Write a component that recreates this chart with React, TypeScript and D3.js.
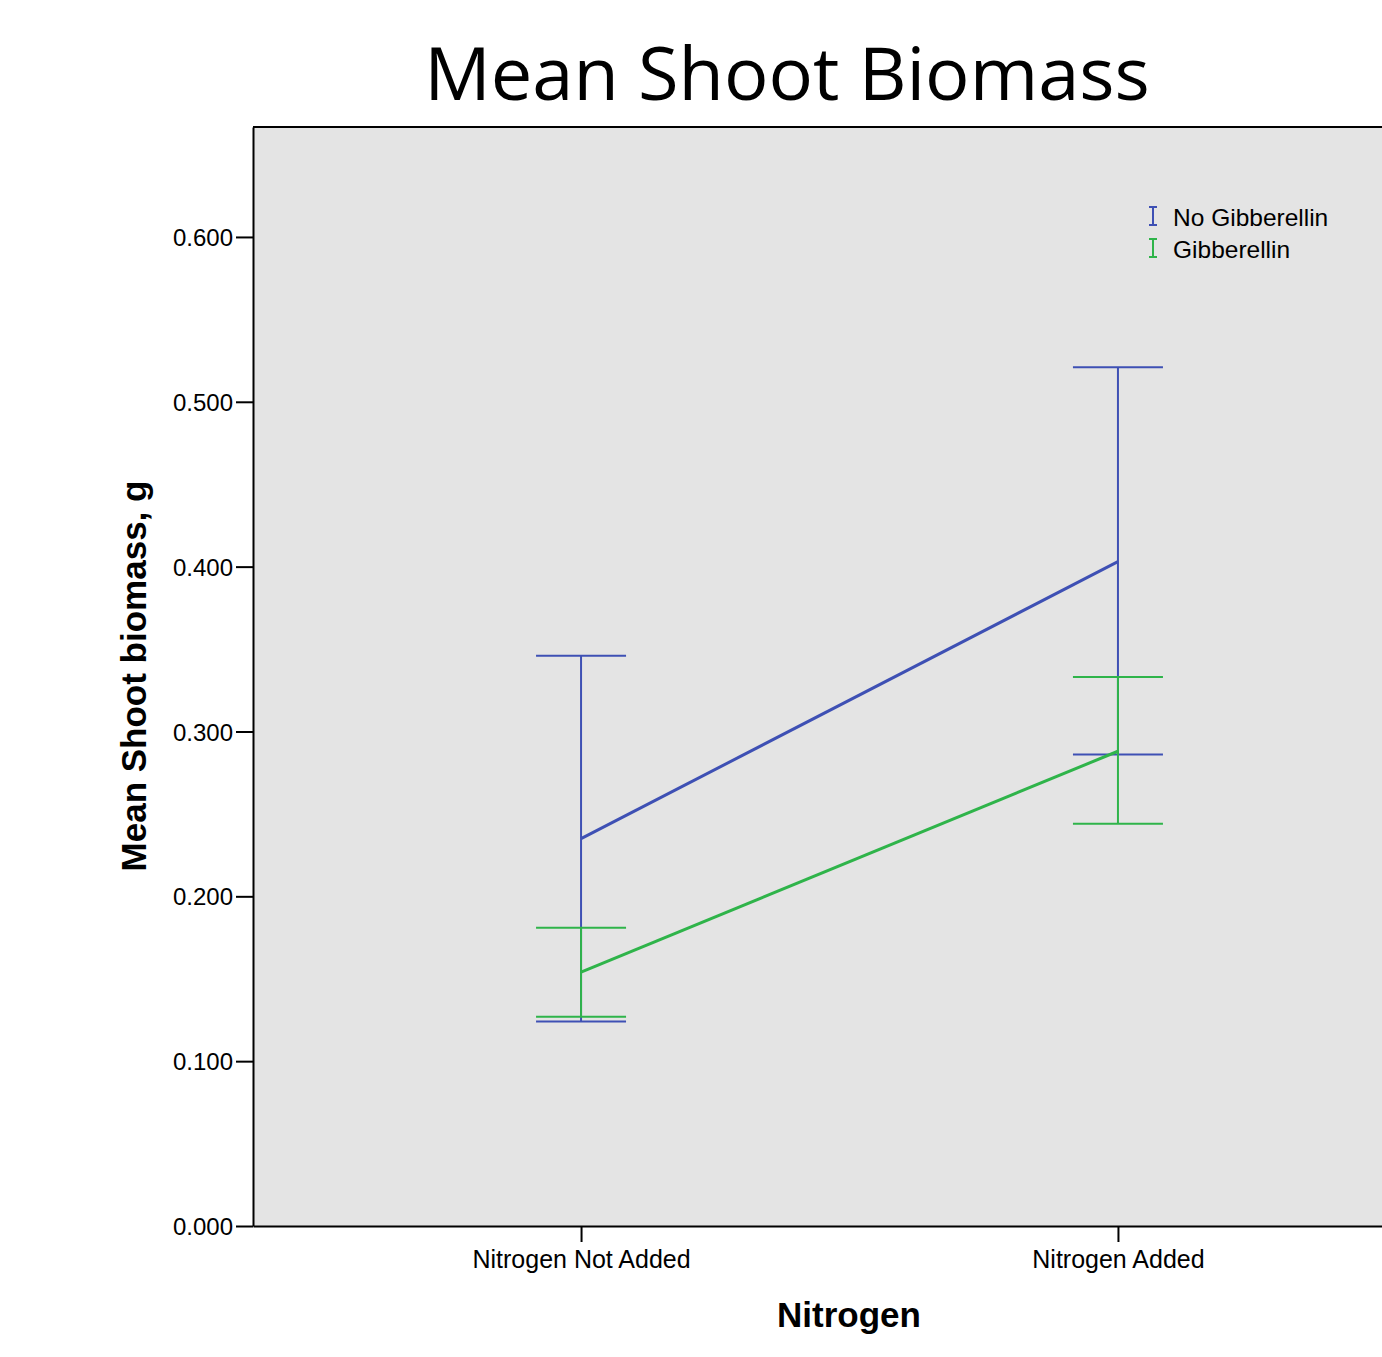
import React, { useEffect, useRef } from 'react';
import * as d3 from 'd3';

// categories on the x axis
const nitrogenLevels = ['Nitrogen Not Added', 'Nitrogen Added'];
const seriesNames = ['No Gibberellin', 'Gibberellin'];
const seriesColors = ['#3E50B4', '#2FB44A'];

// means and error bar limits, one value per nitrogen level
const noGibMean = [0.235, 0.403];
const noGibUpper = [0.346, 0.521];
const noGibLower = [0.124, 0.286];
const gibMean = [0.154, 0.288];
const gibUpper = [0.181, 0.333];
const gibLower = [0.127, 0.244];

const yTicks = [0, 0.1, 0.2, 0.3, 0.4, 0.5, 0.6];

const W = 1382;
const H = 1357;
const left = 253;
const top = 127;
const bottom = 1226;
const plotRight = 1446; // plot runs past the image edge

export default function App() {
  const ref = useRef<SVGSVGElement>(null);

  useEffect(() => {
    const svg = d3.select(ref.current);
    svg.selectAll('*').remove();

    const x = d3
      .scalePoint<string>()
      .domain(nitrogenLevels)
      .range([left, plotRight])
      .padding(0.611);

    const y = d3.scaleLinear().domain([0, 0.6667]).range([bottom, top]);

    // plot background
    svg
      .append('rect')
      .attr('x', left)
      .attr('y', top)
      .attr('width', plotRight - left)
      .attr('height', bottom - top)
      .attr('fill', '#E4E4E4');

    // frame: top line
    svg
      .append('line')
      .attr('x1', left).attr('x2', plotRight)
      .attr('y1', top).attr('y2', top)
      .attr('stroke', '#000').attr('stroke-width', 2);

    // y axis
    const yAxis = d3
      .axisLeft(y)
      .tickValues(yTicks)
      .tickFormat(d3.format('.3f'))
      .tickSize(17)
      .tickSizeOuter(0);
    const gy = svg.append('g').attr('transform', `translate(${left},0)`).call(yAxis);
    gy.select('.domain').attr('stroke', '#000').attr('stroke-width', 2);
    gy.selectAll('.tick line').attr('stroke', '#000').attr('stroke-width', 2);
    gy.selectAll('.tick text')
      .attr('x', -20)
      .attr('dy', '0.36em')
      .style('font-family', 'Liberation Sans, Arial, sans-serif')
      .style('font-size', '24px')
      .attr('fill', '#000');

    // x axis
    const xAxis = d3.axisBottom(x).tickSize(16).tickSizeOuter(0);
    const gx = svg.append('g').attr('transform', `translate(0,${bottom})`).call(xAxis);
    gx.select('.domain').attr('stroke', '#000').attr('stroke-width', 2);
    gx.selectAll('.tick line').attr('stroke', '#000').attr('stroke-width', 2);
    gx.selectAll('.tick text')
      .attr('y', 24)
      .attr('dy', '0.71em')
      .style('font-family', 'Liberation Sans, Arial, sans-serif')
      .style('font-size', '25px')
      .attr('fill', '#000');

    // series
    const series = [
      { mean: noGibMean, upper: noGibUpper, lower: noGibLower },
      { mean: gibMean, upper: gibUpper, lower: gibLower },
    ];
    const capHalf = 45;
    const line = d3
      .line<number>()
      .x((d, i) => x(nitrogenLevels[i]) as number)
      .y((d) => y(d));

    series.forEach((s, si) => {
      const color = seriesColors[si];
      const g = svg.append('g');
      nitrogenLevels.forEach((lvl, i) => {
        const cx = x(lvl) as number;
        g.append('line')
          .attr('x1', cx).attr('x2', cx)
          .attr('y1', y(s.upper[i])).attr('y2', y(s.lower[i]))
          .attr('stroke', color).attr('stroke-width', 2);
        [s.upper[i], s.lower[i]].forEach((v) => {
          g.append('line')
            .attr('x1', cx - capHalf).attr('x2', cx + capHalf)
            .attr('y1', y(v)).attr('y2', y(v))
            .attr('stroke', color).attr('stroke-width', 2);
        });
      });
      g.append('path')
        .datum(s.mean)
        .attr('d', line)
        .attr('fill', 'none')
        .attr('stroke', color)
        .attr('stroke-width', 3);
    });

    // legend
    const legend = svg.append('g');
    seriesNames.forEach((name, i) => {
      const ly = 216 + i * 32;
      const lx = 1153;
      const color = seriesColors[i];
      legend.append('line')
        .attr('x1', lx).attr('x2', lx)
        .attr('y1', ly - 9).attr('y2', ly + 9)
        .attr('stroke', color).attr('stroke-width', 2);
      [ly - 9, ly + 9].forEach((yy) => {
        legend.append('line')
          .attr('x1', lx - 4).attr('x2', lx + 4)
          .attr('y1', yy).attr('y2', yy)
          .attr('stroke', color).attr('stroke-width', 2);
      });
      legend.append('text')
        .attr('x', 1173)
        .attr('y', ly + 10)
        .style('font-family', 'Liberation Sans, Arial, sans-serif')
        .style('font-size', '24.5px')
        .attr('fill', '#000')
        .text(name);
    });

    // title
    svg.append('text')
      .attr('x', 787)
      .attr('y', 100)
      .attr('text-anchor', 'middle')
      .style('font-family', 'Open Sans, sans-serif')
      .style('font-size', '74px')
      .attr('fill', '#000')
      .text('Mean Shoot Biomass');

    // axis titles
    svg.append('text')
      .attr('x', 849)
      .attr('y', 1327)
      .attr('text-anchor', 'middle')
      .style('font-family', 'Liberation Sans, Arial, sans-serif')
      .style('font-size', '35px')
      .style('font-weight', 'bold')
      .attr('fill', '#000')
      .text('Nitrogen');

    svg.append('text')
      .attr('transform', 'translate(146,676) rotate(-90)')
      .attr('text-anchor', 'middle')
      .style('font-family', 'Liberation Sans, Arial, sans-serif')
      .style('font-size', '35px')
      .style('font-weight', 'bold')
      .attr('fill', '#000')
      .text('Mean Shoot biomass, g');
  }, []);

  return (
    <svg
      ref={ref}
      width={W}
      height={H}
      style={{ position: 'absolute', left: 0, top: 0, background: '#fff' }}
    />
  );
}
